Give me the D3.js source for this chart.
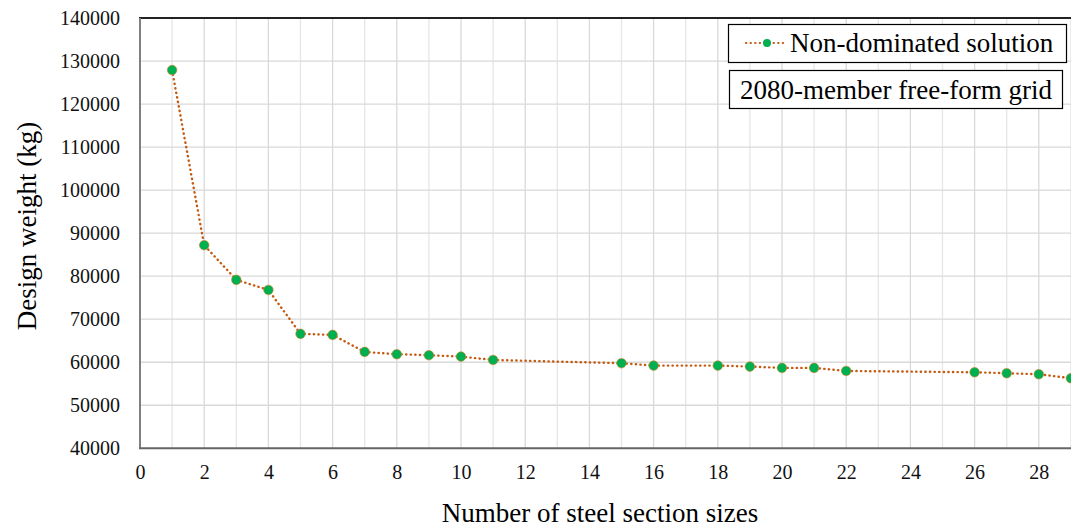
<!DOCTYPE html>
<html>
<head>
<meta charset="utf-8">
<script src="https://cdn.jsdelivr.net/npm/d3@7"></script>
<style>
  html, body { margin: 0; padding: 0; background: #fff; }
  svg { display: block; font-family: "Liberation Serif", "DejaVu Serif", serif; }
</style>
</head>
<body>
<div id="chart"></div>
<script>
"use strict"

//-----------------------------DATA-----------------------------//
const sectionSizes = [1, 2, 3, 4, 5, 6, 7, 8, 9, 10, 11, 15, 16, 18, 19, 20, 21, 22, 26, 27, 28, 29];
const designWeights = [127900, 87200, 79150, 76800, 66600, 66350, 62400, 61860, 61630, 61300, 60530,
    59770, 59220, 59220, 58990, 58680, 58680, 57980, 57670, 57440, 57210, 56280];
const xTickValues = [0, 2, 4, 6, 8, 10, 12, 14, 16, 18, 20, 22, 24, 26, 28];
const yTickValues = [40000, 50000, 60000, 70000, 80000, 90000, 100000, 110000, 120000, 130000, 140000];
const seriesName = "Non-dominated solution";
const noteText = "2080-member free-form grid";
const xTitle = "Number of steel section sizes";
const yTitle = "Design weight (kg)";

//-----------------------------SVG------------------------------//
const width = 1071;
const height = 529;
const plotLeft = 140;
const plotTop = 18;
const plotBottom = 448.3;
const unit = 32.1;   // px per section size, plot runs past the right edge (cropped)

const lineColor = "#c55a11";
const markerColor = "#00b050";

const svg = d3.select("#chart").append("svg")
    .attr("width", width)
    .attr("height", height);

//----------------------------SCALES----------------------------//
const xScale = d3.scaleLinear().domain([0, 30]).range([plotLeft, plotLeft + 30 * unit]);
const yScale = d3.scaleLinear().domain([40000, 140000]).range([plotBottom, plotTop]);

//----------------------------GRID------------------------------//
const grid = svg.append("g");
grid.selectAll("line.v")
    .data(d3.range(1, 31))
    .enter().append("line")
    .attr("class", "v")
    .attr("x1", d => xScale(d)).attr("x2", d => xScale(d))
    .attr("y1", plotTop).attr("y2", plotBottom)
    .attr("stroke", d => d % 2 === 0 ? "#d9d9d9" : "#e6e6e6")
    .attr("stroke-width", 1.3);

grid.selectAll("line.h")
    .data(yTickValues.slice(1, -1))
    .enter().append("line")
    .attr("class", "h")
    .attr("x1", plotLeft).attr("x2", width)
    .attr("y1", d => yScale(d)).attr("y2", d => yScale(d))
    .attr("stroke", "#d9d9d9")
    .attr("stroke-width", 1.3);

//-----------------------------AXES-----------------------------//
const yaxis = d3.axisLeft(yScale)
    .tickValues(yTickValues)
    .tickSize(0)
    .tickPadding(20)
    .tickFormat(d3.format("d"));

const xaxis = d3.axisBottom(xScale)
    .tickValues(xTickValues)
    .tickSize(0)
    .tickPadding(17)
    .tickFormat(d3.format("d"));

const yaxisEl = svg.append("g")
    .attr("transform", "translate(" + plotLeft + ",0)")
    .call(yaxis);
yaxisEl.select(".domain").remove();
yaxisEl.selectAll("text")
    .attr("font-size", 20)
    .attr("font-family", "Liberation Serif")
    .attr("fill", "#111");

const xaxisEl = svg.append("g")
    .attr("transform", "translate(0," + plotBottom + ")")
    .call(xaxis);
xaxisEl.select(".domain").remove();
xaxisEl.selectAll("text")
    .attr("font-size", 20)
    .attr("font-family", "Liberation Serif")
    .attr("fill", "#111");

// frame lines
svg.append("line")
    .attr("x1", plotLeft - 1).attr("x2", width)
    .attr("y1", plotTop).attr("y2", plotTop)
    .attr("stroke", "#222").attr("stroke-width", 2);
svg.append("line")
    .attr("x1", plotLeft).attr("x2", plotLeft)
    .attr("y1", plotTop).attr("y2", plotBottom)
    .attr("stroke", "#808080").attr("stroke-width", 2);
svg.append("line")
    .attr("x1", plotLeft - 1).attr("x2", width)
    .attr("y1", plotBottom).attr("y2", plotBottom)
    .attr("stroke", "#666").attr("stroke-width", 2);

// axis titles
svg.append("text")
    .attr("transform", "translate(36,226) rotate(-90)")
    .attr("text-anchor", "middle")
    .attr("font-size", 27)
    .attr("fill", "#000")
    .text(yTitle);

svg.append("text")
    .attr("x", 600)
    .attr("y", 522)
    .attr("text-anchor", "middle")
    .attr("font-size", 27)
    .attr("fill", "#000")
    .text(xTitle);

//----------------------------LINES-----------------------------//
const points = sectionSizes.map((d, i) => ({ x: d, y: designWeights[i] }));

const line = d3.line()
    .x(d => xScale(d.x))
    .y(d => yScale(d.y));

svg.append("path")
    .datum(points)
    .attr("d", line)
    .attr("fill", "none")
    .attr("stroke", lineColor)
    .attr("stroke-width", 2.4)
    .attr("stroke-linecap", "round")
    .attr("stroke-dasharray", "0.3 4.3");

svg.selectAll("circle.pt")
    .data(points)
    .enter().append("circle")
    .attr("class", "pt")
    .attr("cx", d => xScale(d.x))
    .attr("cy", d => yScale(d.y))
    .attr("r", 4.8)
    .attr("fill", markerColor)
    .attr("stroke", "#d9822b")
    .attr("stroke-width", 0.6);

//----------------------------LEGEND----------------------------//
const legend = svg.append("g");
legend.append("rect")
    .attr("x", 728.5).attr("y", 24.5)
    .attr("width", 338).attr("height", 38)
    .attr("fill", "#fff")
    .attr("stroke", "#000").attr("stroke-width", 1.2);
legend.append("line")
    .attr("x1", 746).attr("x2", 786)
    .attr("y1", 43).attr("y2", 43)
    .attr("stroke", lineColor)
    .attr("stroke-width", 2.2)
    .attr("stroke-linecap", "round")
    .attr("stroke-dasharray", "0.3 4.3");
legend.append("circle")
    .attr("cx", 767).attr("cy", 43).attr("r", 4)
    .attr("fill", markerColor);
legend.append("text")
    .attr("x", 790).attr("y", 52)
    .attr("font-size", 27)
    .attr("fill", "#000")
    .text(seriesName);

const note = svg.append("g");
note.append("rect")
    .attr("x", 729.5).attr("y", 70.5)
    .attr("width", 333).attr("height", 38)
    .attr("fill", "#fff")
    .attr("stroke", "#000").attr("stroke-width", 1.2);
note.append("text")
    .attr("x", 896).attr("y", 99)
    .attr("text-anchor", "middle")
    .attr("font-size", 27)
    .attr("fill", "#000")
    .text(noteText);
</script>
</body>
</html>
